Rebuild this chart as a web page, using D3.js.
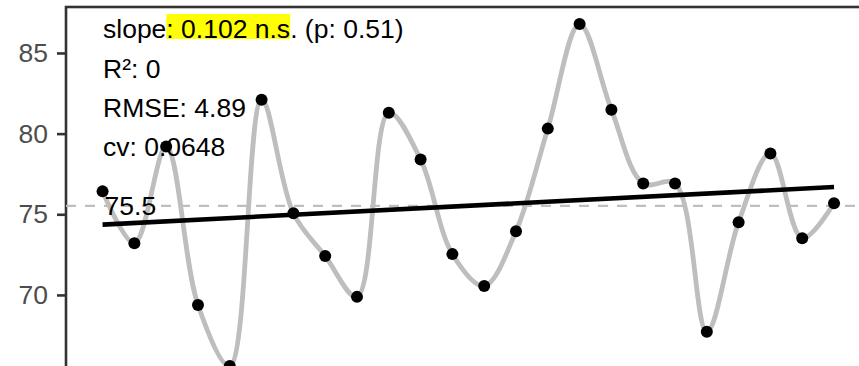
<!DOCTYPE html>
<html>
<head>
    <title>Trend</title>
    <script src="https://d3js.org/d3.v7.min.js"></script>
    <style>
      body { margin: 0; background: #fff; }
    </style>
</head>
<body>
    <div id="chart"></div>
    <script>

// values
const period = [1, 2, 3, 4, 5, 6, 7, 8, 9, 10, 11, 12, 13, 14, 15, 16, 17, 18, 19, 20, 21, 22, 23, 24];
const value = [76.42, 73.21, 79.2, 69.38, 65.6, 82.1, 75.06, 72.41, 69.88, 81.3, 78.4, 72.53,
               70.56, 73.95, 80.31, 86.79, 81.48, 76.91, 76.91, 67.72, 74.51, 78.77, 73.52, 75.68];
const yTicks = [65, 70, 75, 80, 85];
const statLines = ["R\u00b2: 0", "RMSE: 4.89", "cv: 0.0648"];
const slopeParts = ["slope", ": 0.102 n.s", ". (p: 0.51)"];
const meanLabel = "75.5";

const width = 859, height = 366;
const panel = {left: 66, top: 7, right: 870.6, bottom: 383};
const font = "'Liberation Sans', Arial, sans-serif";
const fs = 26.5;

const data = period.map((p, i) => ({x: p, y: value[i]}));

// ggplot style 5% expansion
const xr = d3.extent(period), yr = d3.extent(value);
const xe = (xr[1] - xr[0]) * 0.05, ye = (yr[1] - yr[0]) * 0.05;

const x = d3.scaleLinear()
    .domain([xr[0] - xe, xr[1] + xe])
    .range([panel.left, panel.right]);

const y = d3.scaleLinear()
    .domain([yr[0] - ye, yr[1] + ye])
    .range([panel.bottom, panel.top]);

// least squares fit
const mx = d3.mean(period), my = d3.mean(value);
const b = d3.sum(data, d => (d.x - mx) * (d.y - my)) / d3.sum(data, d => (d.x - mx) ** 2);
const a = my - b * mx;

const svg = d3.select("#chart").append("svg")
    .attr("width", width)
    .attr("height", height)
    .attr("viewBox", [0, 0, width, height])
    .style("display", "block")
    .style("font-family", font);

// panel border
svg.append("rect")
    .attr("x", panel.left)
    .attr("y", panel.top)
    .attr("width", panel.right - panel.left)
    .attr("height", panel.bottom - panel.top)
    .attr("fill", "none")
    .attr("stroke", "#333333")
    .attr("stroke-width", 2.6);

// y axis
const yAxis = svg.append("g")
    .attr("transform", `translate(${panel.left},0)`)
    .call(d3.axisLeft(y).tickValues(yTicks).tickSize(9).tickPadding(9));
yAxis.select(".domain").remove();
yAxis.selectAll(".tick line").attr("stroke", "#333333").attr("stroke-width", 2.6);
yAxis.selectAll(".tick text")
    .attr("fill", "#4d4d4d")
    .style("font-family", font)
    .style("font-size", fs + "px");

// mean line
svg.append("line")
    .attr("x1", panel.left)
    .attr("x2", width)
    .attr("y1", y(my))
    .attr("y2", y(my))
    .attr("stroke", "#bebebe")
    .attr("stroke-width", 2.2)
    .attr("stroke-dasharray", "10,9");

// smooth line
svg.append("path")
    .datum(data)
    .attr("fill", "none")
    .attr("stroke", "#bebebe")
    .attr("stroke-width", 4.8)
    .attr("d", d3.line().x(d => x(d.x)).y(d => y(d.y)).curve(d3.curveCatmullRom));

// regression line
svg.append("line")
    .attr("x1", x(xr[0]))
    .attr("x2", x(xr[1]))
    .attr("y1", y(a + b * xr[0]))
    .attr("y2", y(a + b * xr[1]))
    .attr("stroke", "black")
    .attr("stroke-width", 4.6);

// points
svg.append("g")
  .selectAll("circle")
  .data(data)
  .join("circle")
    .attr("cx", d => x(d.x))
    .attr("cy", d => y(d.y))
    .attr("r", 6)
    .attr("fill", "black");

// mean label
svg.append("text")
    .attr("x", x(xr[0]) + 2)
    .attr("y", 215)
    .style("font-size", fs + "px")
    .text(meanLabel);

// stats text
const tx = 103;
const hl = svg.append("rect").attr("fill", "#ffff00");
const slope = svg.append("text")
    .attr("x", tx)
    .attr("y", 37.5)
    .style("font-size", fs + "px");
slope.selectAll("tspan")
  .data(slopeParts)
  .join("tspan")
    .text(d => d);

const pre = slope.node().getSubStringLength(0, slopeParts[0].length);
const hw = slope.node().getSubStringLength(slopeParts[0].length, slopeParts[1].length);
hl.attr("x", tx + pre).attr("y", 14).attr("width", hw).attr("height", 25);

svg.append("g")
  .selectAll("text")
  .data(statLines)
  .join("text")
    .attr("x", tx)
    .attr("y", (d, i) => 77.5 + i * 39.3)
    .style("font-size", fs + "px")
    .text(d => d);

    </script>
</body>
</html>
